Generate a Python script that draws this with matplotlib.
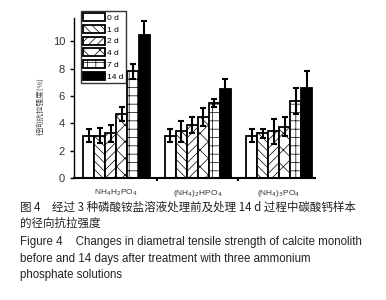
import numpy as np
import matplotlib
matplotlib.use("Agg")
import matplotlib.pyplot as plt

plt.rcParams['font.family'] = ['Liberation Sans', 'Noto Sans CJK SC', 'DejaVu Sans']
plt.rcParams['hatch.linewidth'] = 0.5

groups = ["NH$_4$H$_2$PO$_4$", "(NH$_4$)$_2$HPO$_4$", "(NH$_4$)$_3$PO$_4$"]
days = ["0 d", "1 d", "2 d", "4 d", "7 d", "14 d"]
values = [
    [3.1, 3.1, 3.25, 4.7, 7.8, 10.45],
    [3.1, 3.4, 3.87, 4.43, 5.47, 6.5],
    [3.1, 3.26, 3.4, 3.75, 5.64, 6.6],
]
errors = [
    [0.47, 0.55, 0.63, 0.5, 0.56, 1.02],
    [0.47, 0.8, 0.58, 0.65, 0.3, 0.73],
    [0.47, 0.32, 0.9, 0.7, 0.93, 1.23],
]
hatches = ["", "\\\\\\\\", "////", "xx", "++", ""]
faces = ["white", "white", "white", "white", "white", "black"]

fig = plt.figure(figsize=(3.86, 3.0), dpi=100)
ax = fig.add_axes([0.192, 0.407, 0.624, 0.533])

w = 0.136
x = np.arange(len(groups))
vals = np.array(values)
errs = np.array(errors)
for i, d in enumerate(days):
    pos = x + (i - 2.5) * w
    ax.bar(pos, vals[:, i], w, color=faces[i], edgecolor="black", linewidth=1.3,
           hatch=hatches[i], label=d, zorder=2)
    ax.errorbar(pos, vals[:, i], yerr=errs[:, i], fmt="none", ecolor="black",
                elinewidth=1.5, capsize=2, capthick=1.5, zorder=3)

ax.set_xlim(-0.52, 2.44)
ax.set_ylim(0, 11.7)
ax.set_yticks([0, 2, 4, 6, 8, 10])
ax.set_xticks(x)
ax.set_xticklabels(groups, fontsize=6, color="#333333")
ax.set_xticks([0.5, 1.5], minor=True)
ax.tick_params(axis="x", which="major", length=0, pad=7)
ax.tick_params(axis="x", which="minor", length=2, width=1.5)
ax.tick_params(axis="y", labelsize=8, labelcolor="#333333", length=3, width=1)
ax.spines["top"].set_visible(False)
ax.spines["right"].set_visible(False)
ax.spines["bottom"].set_linewidth(1.5)
ax.spines["left"].set_linewidth(1.0)
ax.set_ylabel("径向抗拉强度(%)", fontsize=5.5, color="#444444",
              family=["Noto Sans CJK SC", "DejaVu Sans"], labelpad=2)
ax.yaxis.set_label_coords(-0.12, 0.45)

leg = ax.legend(loc="upper left", bbox_to_anchor=(0.028, 1.045), fontsize=6,
                handlelength=2.7, handleheight=1.1, labelspacing=0.36,
                handletextpad=0.2, borderpad=0.25, borderaxespad=0,
                frameon=True, fancybox=False, edgecolor="black")
leg.get_frame().set_linewidth(1.0)

cn = ["Noto Sans CJK SC", "DejaVu Sans"]
fs = 8.3
fig.text(0.052, 0.31, "图 4　经过 3 种磷酸铵盐溶液处理前及处理 14 d 过程中碳酸钙样本",
         fontsize=fs, family=cn, color="#222222", va="center")
fig.text(0.052, 0.255, "的径向抗拉强度", fontsize=fs, family=cn, color="#222222", va="center")
fig.text(0.052, 0.195, "Figure 4    Changes in diametral tensile strength of calcite monolith",
         fontsize=fs, color="#222222", va="center")
fig.text(0.052, 0.138, "before and 14 days after treatment with three ammonium",
         fontsize=fs, color="#222222", va="center")
fig.text(0.052, 0.082, "phosphate solutions", fontsize=fs, color="#222222", va="center")

fig.savefig("out.png", dpi=100)
